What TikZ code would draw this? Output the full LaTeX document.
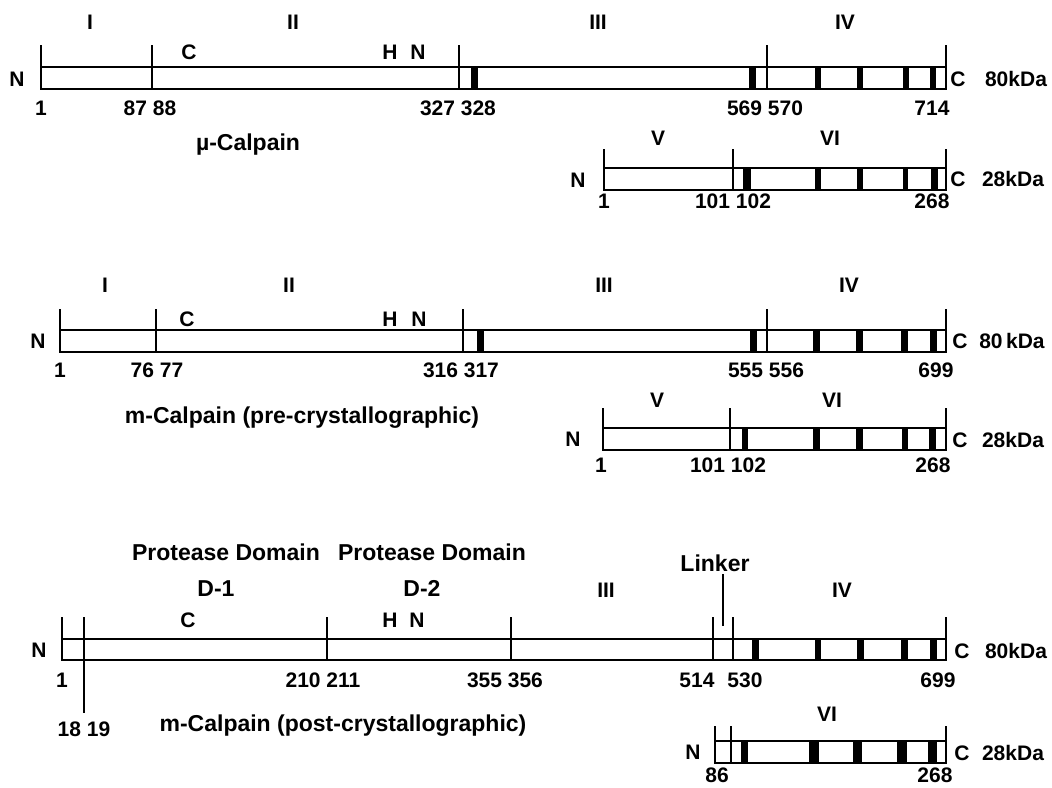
\documentclass[tikz,border=0pt]{standalone}
\usepackage{fontspec}
\setmainfont{Liberation Sans}
\begin{document}
\begin{tikzpicture}[x=1pt,y=-1pt,
  lab/.style={font=\fontsize{21}{24}\selectfont\bfseries, inner sep=0pt, text height=15pt, text depth=0pt},
  capt/.style={font=\fontsize{23}{26}\selectfont\bfseries, inner sep=0pt, text height=16.5pt, text depth=0pt},
  outl/.style={line width=2.2pt},
  tk/.style={line width=2pt},
  thinln/.style={line width=1.2pt},
  band/.style={fill=black}]
\useasboundingbox[fill=white] (0,0) rectangle (1052,787);

% ===== Section 1: mu-Calpain =====
\draw[outl] (41,67) rectangle (946,89);
\foreach \x in {41,152,459,767,946} \draw[tk] (\x,45) -- (\x,89);
\foreach \a/\b in {471/478,749/756,815/821,857/863,903/909,930/936} \fill[band] (\a,67) rectangle (\b,89);
\node[lab] (a1) at (90,22) {I};
\node[lab] (a2) at (293,22) {II};
\node[lab] (a3) at (598,22) {III};
\node[lab] (a4) at (845,22) {IV};
\node[lab] (aC) at (189,52) {C};
\node[lab] (aH) at (390,52) {H};
\node[lab] (aN2) at (418,52) {N};
\node[lab] (aN) at (17,79) {N};
\node[lab] (aCt) at (958,79) {C};
\node[lab] (akd) at (1016,79) {80kDa};
\node[lab] (an1) at (41,108) {1};
\node[lab] (an2) at (150,108) {87 88};
\node[lab] (an3) at (458,108) {327 328};
\node[lab] (an4) at (765,108) {569 570};
\node[lab] (an5) at (932,108) {714};
\node[capt] (acap) at (248,142) {µ-Calpain};

\draw[outl] (604,168) rectangle (946,190);
\foreach \x in {604,733,946} \draw[tk] (\x,149) -- (\x,190);
\foreach \a/\b in {743/751,815/821,857/863,903/908,931/938} \fill[band] (\a,168) rectangle (\b,190);
\node[lab] (b5) at (658,138) {V};
\node[lab] (b6) at (830,138) {VI};
\node[lab] (bN) at (578,180) {N};
\node[lab] (bC) at (958,179) {C};
\node[lab] (bkd) at (1013,179) {28kDa};
\node[lab] (bn1) at (604,201) {1};
\node[lab] (bn2) at (733,201) {101 102};
\node[lab] (bn3) at (932,201) {268};

% ===== Section 2: m-Calpain (pre) =====
\draw[outl] (60,330) rectangle (946,352);
\foreach \x in {60,156,463,767,946} \draw[tk] (\x,309) -- (\x,352);
\foreach \a/\b in {477/484,750/757,813/820,856/863,901/908,930/937} \fill[band] (\a,330) rectangle (\b,352);
\node[lab] (c1) at (105,285) {I};
\node[lab] (c2) at (289,285) {II};
\node[lab] (c3) at (604,285) {III};
\node[lab] (c4) at (849,285) {IV};
\node[lab] (cC) at (187,319) {C};
\node[lab] (cH) at (390,319) {H};
\node[lab] (cN2) at (419,319) {N};
\node[lab] (cN) at (38,341) {N};
\node[lab] (cCt) at (960,341) {C};
\node[lab] (ckd) at (1012,341) {80\,kDa};
\node[lab] (cn1) at (60,370) {1};
\node[lab] (cn2) at (157,370) {76 77};
\node[lab] (cn3) at (461,370) {316 317};
\node[lab] (cn4) at (766,370) {555 556};
\node[lab] (cn5) at (936,370) {699};
\node[capt] (ccap) at (302,415) {m-Calpain (pre-crystallographic)};

\draw[outl] (603,428) rectangle (946,450);
\foreach \x in {603,730,946} \draw[tk] (\x,408) -- (\x,450);
\foreach \a/\b in {742/748,813/820,856/863,902/908,929/936} \fill[band] (\a,428) rectangle (\b,450);
\node[lab] (d5) at (657,400) {V};
\node[lab] (d6) at (832,400) {VI};
\node[lab] (dN) at (573,439) {N};
\node[lab] (dC) at (960,440) {C};
\node[lab] (dkd) at (1013,440) {28kDa};
\node[lab] (dn1) at (601,465) {1};
\node[lab] (dn2) at (728,465) {101 102};
\node[lab] (dn3) at (933,465) {268};

% ===== Section 3: m-Calpain (post) =====
\draw[outl] (62,639) rectangle (946,660);
\foreach \x in {62,84,327,511,713,733,946} \draw[tk] (\x,617) -- (\x,660);
\draw[thinln] (84,660) -- (84,713);
\foreach \a/\b in {752/759,815/821,857/864,901/908,930/937} \fill[band] (\a,639) rectangle (\b,660);
\node[capt] (eP1) at (226,552) {Protease Domain};
\node[capt] (eP2) at (432,552) {Protease Domain};
\node[capt] (eD1) at (216,588) {D-1};
\node[capt] (eD2) at (422,588) {D-2};
\node[lab] (e3) at (606,590) {III};
\node[lab] (e4) at (842,590) {IV};
\node[capt] (eL) at (715,563) {Linker};
\draw[thinln] (723,574) -- (723,626);
\node[lab] (eC) at (188,620) {C};
\node[lab] (eH) at (390,620) {H};
\node[lab] (eN2) at (417,620) {N};
\node[lab] (eN) at (39,650) {N};
\node[lab] (eCt) at (962,651) {C};
\node[lab] (ekd) at (1016,651) {80kDa};
\node[lab] (en1) at (62,680) {1};
\node[lab] (en2) at (323,680) {210 211};
\node[lab] (en3) at (505,680) {355 356};
\node[lab] (en4) at (697,680) {514};
\node[lab] (en5) at (745,680) {530};
\node[lab] (en6) at (938,680) {699};
\node[lab] (en7) at (84,729) {18 19};
\node[capt] (ecap) at (343,723) {m-Calpain (post-crystallographic)};

\draw[outl] (715,741) rectangle (946,763);
\foreach \x in {715,731,946} \draw[tk] (\x,726) -- (\x,763);
\foreach \a/\b in {741/748,809/819,853/862,897/907,928/937} \fill[band] (\a,741) rectangle (\b,763);
\node[lab] (f6) at (827,714) {VI};
\node[lab] (fN) at (693,752) {N};
\node[lab] (fC) at (962,753) {C};
\node[lab] (fkd) at (1013,753) {28kDa};
\node[lab] (fn1) at (717,775) {86};
\node[lab] (fn2) at (935,775) {268};
\end{tikzpicture}
\end{document}
